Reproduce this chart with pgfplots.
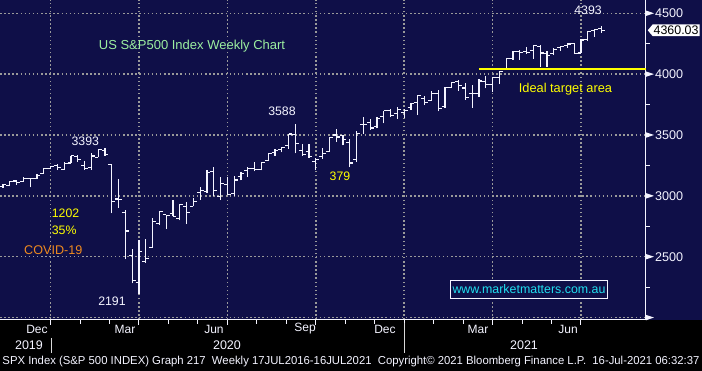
\documentclass[border=0pt]{standalone}
\usepackage{pgfplots}
\pgfplotsset{compat=1.18}
\usepackage{pgfplotstable}
\usepackage{fontspec}
\setmainfont{Liberation Sans}
\usetikzlibrary{shapes.symbols}
\definecolor{navy}{HTML}{0F0F48}
\definecolor{gridgray}{HTML}{9A9A9A}
\definecolor{annyellow}{HTML}{FFFF00}
\definecolor{anngreen}{HTML}{9CEFA0}
\definecolor{annorange}{HTML}{F08A1E}
\definecolor{anncyan}{HTML}{20E0F0}
\definecolor{axwhite}{HTML}{F4F4FF}

\pgfdeclareplotmark{ytri}{%
  \pgfpathmoveto{\pgfpoint{0pt}{2.7pt}}%
  \pgfpathlineto{\pgfpoint{8pt}{0pt}}%
  \pgfpathlineto{\pgfpoint{0pt}{-2.7pt}}%
  \pgfpathclose\pgfusepathqfill}

\pgfplotstableread{
k o h l c
-8 3078.0 3097.8 3066.9 3093.1
-7 3087.0 3120.5 3078.0 3120.5
-6 3122.0 3127.6 3091.4 3110.3
-5 3117.4 3154.3 3114.1 3141.0
-4 3143.9 3150.6 3070.3 3145.9
-3 3141.9 3182.7 3135.1 3168.8
-2 3183.6 3225.6 3183.6 3221.2
-1 3226.1 3247.9 3222.0 3240.0
0 3247.2 3258.1 3212.0 3234.9
1 3217.6 3282.0 3214.6 3265.4
2 3270.1 3329.9 3270.1 3329.6
3 3325.1 3337.8 3281.5 3295.5
4 3247.2 3285.9 3214.7 3225.5
5 3235.7 3348.0 3214.7 3327.7
6 3318.3 3385.1 3315.2 3380.2
7 3369.0 3393.5 3328.5 3337.8
8 3257.6 3259.8 2855.8 2954.2
9 2974.3 3136.7 2901.5 2972.4
10 2863.9 2882.6 2478.9 2711.0
11 2508.6 2563.0 2280.5 2304.9
12 2290.7 2637.0 2191.9 2541.5
13 2457.8 2641.4 2447.5 2488.7
14 2578.3 2818.6 2575.0 2789.8
15 2776.4 2879.2 2761.5 2874.6
16 2845.6 2845.6 2727.1 2836.7
17 2854.7 2965.7 2830.7 2830.7
18 2815.0 2934.3 2797.9 2929.8
19 2915.5 2945.8 2766.6 2863.7
20 2913.9 2980.3 2913.9 2955.5
21 3025.2 3068.7 2969.9 3044.3
22 3038.8 3211.7 3025.8 3193.9
23 3199.9 3233.1 2999.5 3041.3
24 2993.8 3155.5 2965.7 3097.7
25 3094.4 3156.0 3004.6 3009.1
26 3018.6 3165.8 2999.9 3130.0
27 3155.3 3198.6 3127.7 3185.0
28 3205.1 3238.3 3152.9 3224.7
29 3224.3 3279.3 3200.8 3215.6
30 3219.8 3272.2 3209.4 3271.1
31 3288.3 3352.5 3284.5 3351.3
32 3356.0 3387.9 3327.6 3372.9
33 3380.9 3399.5 3357.9 3397.2
34 3411.2 3509.2 3386.0 3508.0
35 3507.4 3588.1 3349.6 3427.0
36 3371.9 3425.6 3329.3 3341.0
37 3363.6 3428.9 3313.8 3319.5
38 3285.6 3306.9 3209.5 3298.5
39 3324.3 3393.6 3303.0 3348.4
40 3367.3 3482.3 3361.4 3477.1
41 3500.0 3549.9 3441.4 3483.8
42 3493.5 3502.4 3415.0 3465.4
43 3441.4 3466.5 3233.9 3270.0
44 3296.2 3529.0 3279.7 3509.4
45 3583.0 3646.0 3511.9 3585.2
46 3600.2 3628.5 3543.8 3557.5
47 3566.8 3644.3 3555.0 3638.4
48 3653.8 3699.2 3594.4 3699.1
49 3698.1 3712.4 3645.8 3663.5
50 3675.3 3726.7 3633.4 3709.4
51 3684.3 3711.2 3636.5 3703.1
52 3723.0 3760.2 3709.3 3756.1
53 3764.6 3826.7 3662.7 3824.7
54 3803.1 3823.6 3749.6 3768.3
55 3781.9 3861.5 3781.9 3841.5
56 3844.2 3870.9 3694.1 3714.2
57 3731.2 3894.6 3725.6 3886.8
58 3892.6 3937.0 3884.9 3934.8
59 3939.6 3950.4 3865.0 3906.7
60 3885.6 3928.7 3789.5 3811.2
61 3842.5 3914.5 3723.3 3841.9
62 3844.4 3960.3 3811.5 3943.3
63 3942.7 3983.9 3883.9 3913.1
64 3916.5 3978.2 3853.5 3974.5
65 3971.1 4020.6 3917.1 4019.9
66 4034.4 4129.5 4034.4 4128.8
67 4124.7 4191.3 4118.4 4185.5
68 4185.1 4194.2 4118.4 4180.2
69 4185.1 4218.8 4167.8 4181.2
70 4192.0 4238.0 4126.0 4232.6
71 4228.3 4236.4 4056.9 4173.9
72 4169.9 4188.7 4061.4 4155.9
73 4168.6 4213.4 4156.5 4204.1
74 4216.5 4234.1 4188.0 4229.9
75 4231.9 4249.7 4217.4 4247.4
76 4248.9 4257.2 4164.4 4166.5
77 4173.4 4286.1 4173.4 4280.7
78 4284.9 4355.4 4271.0 4352.3
79 4356.5 4372.5 4306.0 4369.6
80 4372.4 4393.7 4340.7 4360.0
}\spx

\begin{document}
\begin{tikzpicture}[x=1pt,y=1pt]
\fill[black] (0,0) rectangle (702,51);
\fill[navy] (0,51) rectangle (702,371);
\begin{axis}[
  at={(0pt,51pt)}, anchor=south west,
  scale only axis, width=646pt, height=320pt,
  xmin=-8.44, xmax=86.56, ymin=1980, ymax=4609,
  axis background/.style={fill=navy},
  axis x line*=bottom, axis y line*=right,
  axis line style={axwhite, line width=1pt},
  xtick={-1,12,25,38,51,64,77}, xticklabels={},
  minor x tick num=2,
  ytick={2000,2500,3000,3500,4000,4500},
  yticklabels={,2500,3000,3500,4000,4500},
  minor y tick num=1,
  grid=major,
  major grid style={gridgray, line width=1.5pt, dash pattern=on 1.5pt off 2.6pt},
  tick align=outside,
  major tick length=5pt, minor tick length=4pt,
  every tick/.style={axwhite, line width=1pt},
  every major y tick/.style={draw=none},
  yticklabel style={font=\fontsize{12.6}{14}\selectfont, text=axwhite, anchor=west, inner sep=0pt, xshift=4pt},
  /pgf/number format/assume math mode=true,
  /pgf/number format/1000 sep={},
  clip=false,
]
\addplot[axwhite, line width=1.1pt, mark=none, quiver={u=0, v=\thisrow{h}-\thisrow{l}}] table[x=k, y=l]{\spx};
\addplot[axwhite, line width=1.1pt, mark=none, quiver={u=0.5, v=0}] table[x expr=\thisrow{k}-0.5, y=o]{\spx};
\addplot[axwhite, line width=1.1pt, mark=none, quiver={u=0.5, v=0}] table[x=k, y=c]{\spx};
\addplot[annyellow, line width=2pt, mark=none] coordinates {(62,4038) (86.56,4038)};
\addplot[only marks, mark=ytri, axwhite] coordinates {(86.56,2000) (86.56,2500) (86.56,3000) (86.56,3500) (86.56,4000) (86.56,4500)};
\end{axis}

% annotations
\node[text=anngreen, font=\fontsize{13}{15}\selectfont] at (192,325.3) {US S\&P500 Index Weekly Chart};
\node[text=axwhite, font=\fontsize{12.3}{14}\selectfont] at (85.3,230) {3393};
\node[text=axwhite, font=\fontsize{12.3}{14}\selectfont] at (282,260) {3588};
\node[text=annyellow, font=\fontsize{12.3}{14}\selectfont] at (340,195) {379};
\node[text=annyellow, font=\fontsize{12.3}{14}\selectfont, anchor=west, inner sep=0pt] at (51.7,157.7) {1202};
\node[text=annyellow, font=\fontsize{12.3}{14}\selectfont, anchor=west, inner sep=0pt] at (51.7,141) {35\%};
\node[text=annorange, font=\fontsize{12.6}{14}\selectfont] at (53.3,121) {COVID-19};
\node[text=axwhite, font=\fontsize{12.3}{14}\selectfont] at (112,70) {2191};
\node[text=axwhite, font=\fontsize{12.3}{14}\selectfont] at (588,360.3) {4393};
\node[text=annyellow, font=\fontsize{12.8}{14}\selectfont] at (565.5,282) {Ideal target area};
\node[draw=axwhite, line width=0.9pt, fill=navy, text=anncyan, font=\fontsize{12.4}{14}\selectfont,
      minimum width=157pt, minimum height=18pt, inner sep=0pt] at (529,81.8) {www.marketmatters.com.au};
\node[signal, signal to=west, signal pointer angle=100, fill=white, text=black, anchor=west,
      font=\fontsize{12.4}{14}\selectfont, inner xsep=1pt, inner ysep=1.5pt] at (647.5,340.7) {4360.03};

% bottom labels
\foreach \xx/\lab in {37/Dec,125/Mar,214/Jun,305/Sep,385/Dec,478/Mar,568/Jun}
  \node[text=axwhite, font=\fontsize{12}{14}\selectfont] at (\xx,42) {\lab};
\foreach \xx/\lab in {29/2019,227/2020,524/2021}
  \node[text=axwhite, font=\fontsize{12.5}{14}\selectfont] at (\xx,26) {\lab};
\draw[white!85!black, line width=0.8pt] (51,33) -- (51,18);
\draw[white!85!black, line width=0.8pt] (404,48) -- (404,18);
\node[text=axwhite, font=\fontsize{11.5}{13}\selectfont, inner sep=0pt] at (351,9)
  {\resizebox{697pt}{\height}{SPX Index (S\&P 500 INDEX) Graph 217~~Weekly 17JUL2016-16JUL2021~~Copyright© 2021 Bloomberg Finance L.P.~~16-Jul-2021 06:32:37}};

\pgfresetboundingbox
\useasboundingbox (0,0) rectangle (702,371);
\end{tikzpicture}
\end{document}
